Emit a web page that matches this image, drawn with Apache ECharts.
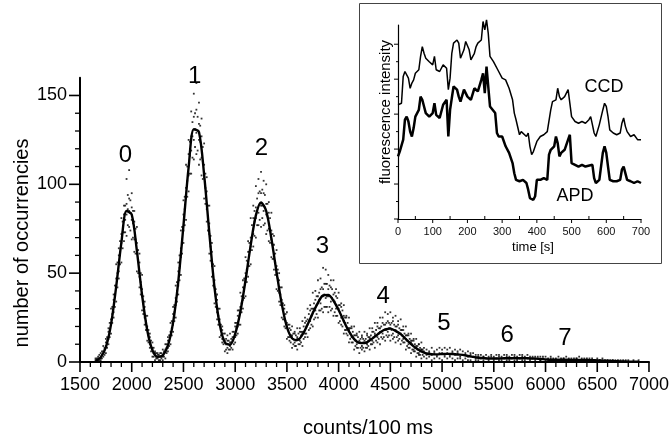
<!DOCTYPE html>
<html>
<head>
<meta charset="utf-8">
<script src="https://cdn.jsdelivr.net/npm/echarts@6/dist/echarts.min.js"></script>
<style>
  html, body { margin: 0; padding: 0; background: #fff; }
  #chart { width: 672px; height: 444px; }
</style>
</head>
<body>
<div id="chart"></div>
<script>
// ---- Photon-count histogram: fitted multi-peak curve ----
const fitX = [1650,1700,1750,1800,1850,1900,1950,2000,2050,2100,2150,2200,2250,2300,2350,2400,2450,2500,2550,2600,
  2650,2700,2750,2800,2850,2900,2950,3000,3050,3100,3150,3200,3250,3300,3350,3400,3450,3500,3550,3600,
  3650,3700,3750,3800,3850,3900,3950,4000,4050,4100,4150,4200,4250,4300,4350,4400,4450,4500,4550,4600,
  4650,4700,4750,4800,4850,4900,4950,5000,5050,5100,5150,5200,5250,5300,5350,5400,5450,5500,5550,5600,
  5650,5700,5750,5800,5850,5900,5950,6000,6050,6100,6150,6200,6250,6300,6350,6400,6450,6500,6550,6600,
  6650,6700,6750,6800,6850,6900];
const fitY = [0.6,2.6,8.3,21.2,42.6,67.2,85.0,83.0,62.5,37.7,17.9,6.7,2.9,3.7,9.3,22.3,45.3,76.8,109.5,131.0,
  129.5,105.3,72.7,42.0,21.3,11.0,9.7,15.8,28.3,46.0,65.8,82.5,89.8,85.0,69.5,50.5,32.7,19.7,13.3,12.3,
  15.4,21.1,27.5,33.3,37.5,37.8,34.5,29.3,23.0,17.2,12.9,10.8,10.6,12.1,14.3,16.6,18.3,18.8,17.5,15.7,
  12.9,10.1,7.7,5.9,4.8,4.4,4.3,4.5,4.6,4.5,4.2,4.0,3.4,2.9,2.4,2.2,2.0,2.0,2.0,2.1,
  2.1,2.2,2.1,2.2,2.0,1.9,1.7,1.5,1.3,1.3,1.3,1.3,1.2,1.2,1.2,1.1,1.0,0.9,0.8,0.6,
  0.5,0.4,0.3,0.2,0.2,0.1];

// ---- Measured occurrences: each row is [counts, occurrence, occurrence, ...] ----
const dotColumns = [
  [1650,0,1,0,2],[1675,1,0,2,3],[1700,1,3,2,5],[1725,3,6,5,9],[1750,5,9,11,13],[1775,10,13,17,19],
  [1800,16,22,24,30],[1825,25,28,35,38],[1850,34,43,47,55],[1875,47,51,60,64],[1900,56,67,72,81],
  [1925,68,73,83,88],[1950,71,83,89,103],[1975,76,85,92,108],[2000,69,80,87,95],[2025,62,69,79,85],
  [2050,51,61,67,76],[2075,42,48,56,61],[2100,29,37,41,49],[2125,21,25,31,34],[2150,12,18,20,26],
  [2175,8,10,14,16],[2200,3,7,8,11],[2225,1,4,5,6],[2250,0,2,4,5],[2275,0,1,3,5],[2300,1,3,4,7],
  [2325,2,6,7,10],[2350,6,8,12,14],[2375,10,15,17,22],[2400,17,21,27,31],[2425,25,32,36,43],
  [2450,38,43,51,56],[2475,49,59,64,74],[2500,67,74,83,91],[2525,80,92,98,111],[2550,96,105,117,125],
  [2575,106,119,127,141],[2600,114,125,138,151],[2625,117,129,142,157],[2650,111,125,134,146],
  [2675,105,115,127,137],[2700,92,104,111,123],[2725,79,86,96,104],[2750,61,72,78,88],[2775,48,54,62,67],
  [2800,33,42,46,54],[2825,24,28,35,38],[2850,14,21,24,30],[2875,11,13,18,20],[2900,6,11,12,16],
  [2925,5,8,12,15],[2950,7,9,11,16],[2975,7,12,14,17],[3000,11,14,20,22],[3025,16,20,26,29],
  [3050,21,28,31,39],[3075,30,35,42,46],[3100,37,46,50,59],[3125,48,54,62,68],[3150,55,65,70,81],
  [3175,65,72,81,88],[3200,70,81,87,99],[3225,77,84,95,103],[3250,76,88,95,107],[3275,77,85,95,102],
  [3300,72,83,89,100],[3325,68,75,84,90],[3350,59,69,74,84],[3375,52,58,66,71],[3400,41,50,54,63],
  [3425,34,39,46,50],[3450,25,33,35,42],[3475,20,24,30,32],[3500,13,20,22,28],[3525,12,14,19,21],
  [3550,8,14,15,20],[3575,9,11,16,17],[3600,7,13,14,19],[3625,10,12,17,19],[3650,9,16,17,23],
  [3675,14,16,22,25],[3700,14,21,24,30],[3725,19,23,29,32],[3750,20,28,30,39],[3775,25,29,35,40],
  [3800,25,33,37,46],[3825,29,33,41,47],[3850,28,37,41,53],[3875,31,36,44,52],[3900,28,37,41,49],
  [3925,29,34,42,46],[3950,26,35,38,46],[3975,26,30,37,41],[4000,22,30,32,39],[4025,21,25,31,33],
  [4050,16,23,26,32],[4075,16,18,25,26],[4100,11,18,19,25],[4125,11,14,19,20],[4150,7,13,15,20],
  [4175,8,10,15,16],[4200,5,11,12,17],[4225,7,9,14,15],[4250,6,11,12,17],[4275,8,10,15,16],
  [4300,7,13,14,19],[4325,10,12,17,19],[4350,8,15,16,22],[4375,11,14,20,22],[4400,10,17,19,25],
  [4425,13,16,22,25],[4450,12,18,21,28],[4475,14,17,23,27],[4500,12,19,21,28],[4525,13,16,23,25],
  [4550,11,18,20,26],[4575,12,15,21,23],[4600,10,16,18,24],[4625,11,13,18,20],[4650,7,13,15,20],
  [4675,8,10,15,16],[4700,5,11,12,16],[4725,6,7,12,13],[4750,3,8,9,13],[4775,4,5,10,10],[4800,2,7,7,11],
  [4825,3,6,8],[4850,2,4,7],[4875,3,5,6],[4900,1,4,8],[4925,2,5,6],[4950,3,4,7],[4975,2,5,8],
  [5000,1,5,7],[5025,3,4,8],[5050,2,5,7],[5075,3,4,8],[5100,2,5,6],[5125,1,4,7],[5150,2,5,6],
  [5175,2,3,7],[5200,1,4,6],[5225,2,4,5],[5250,1,3,6],[5275,1,4,5],[5300,0,3,5],[5325,1,2,4],
  [5350,1,3,4],[5375,0,2,4],[5400,1,3,3],[5425,0,2,4],[5450,1,2,3],[5475,0,3,4],[5500,1,2,3],
  [5525,0,2,4],[5550,1,3,4],[5575,1,2,3],[5600,0,2,4],[5625,1,3,4],[5650,1,2,3],[5675,0,2,4],
  [5700,1,3,4],[5725,1,2,3],[5750,0,2,4],[5775,1,3,4],[5800,1,2,3],[5825,0,2,4],[5850,1,2,3],
  [5875,0,2,3],[5900,1,2,3],[5925,0,2,3],[5950,1,1,3],[5975,0,2,3],[6000,0,1,3],[6025,0,1,2],
  [6050,0,2,3],[6075,0,1,2],[6100,1,1,2],[6125,0,1,3],[6150,0,1,2],[6175,0,2,2],[6200,0,1,3],
  [6225,0,1,2],[6250,1,1,2],[6275,0,1,2],[6300,0,2,2],[6325,0,1,3],[6350,0,1,2],[6375,0,1,2],
  [6400,0,1,2],[6425,0,1,2],[6450,0,1,2],[6475,0,1,1],[6500,0,1,2],[6525,0,1,1],[6550,0,1,2],
  [6575,0,0,1],[6600,0,1,1],[6625,0,0,1],[6650,0,1,1],[6675,0,0,1],[6700,0,0,1],[6725,0,0,1],
  [6750,0,1,0],[6775,0,0,1],[6800,0,0,1],[6825,0,0,0],[6850,0,0,1],[6875,0,0,0],[6900,0,0,1],
  // in-between bins
  [1662,0,1,2],[1687,1,2,4],[1712,2,4,6],[1737,4,7,8],[1762,8,12,14],[1787,14,18,22],[1812,22,27,31],
  [1837,31,38,43],[1862,42,50,56],[1887,55,60,68],[1912,64,73,79],[1937,73,80,88],[1962,77,86,94],
  [1987,74,84,91],[2012,70,78,85],[2037,61,69,75],[2062,50,57,63],[2087,38,45,50],[2112,27,33,37],
  [2137,18,23,26],[2162,11,15,18],[2187,6,9,12],[2212,3,5,8],[2237,2,3,5],[2262,1,3,4],[2287,2,3,5],
  [2312,3,5,6],[2337,5,8,10],[2362,9,12,15],[2387,15,19,23],[2412,23,28,32],[2437,34,40,45],
  [2462,46,53,60],[2487,61,69,76],[2512,77,86,93],[2537,93,102,110],[2562,106,116,124],[2587,115,127,135],
  [2612,121,131,140],[2637,119,130,138],[2662,114,124,133],[2687,103,113,121],[2712,89,98,106],
  [2737,74,82,88],[2762,57,65,71],[2787,43,50,55],[2812,31,37,41],[2837,21,26,30],[2862,15,19,21],
  [2887,10,13,16],[2912,7,10,13],[2937,7,10,12],[2962,8,11,13],[2987,10,14,17],[3012,15,19,22],
  [3037,21,25,29],[3062,28,33,37],[3087,36,42,47],[3112,45,52,57],[3137,54,62,67],[3162,63,71,77],
  [3187,71,79,85],[3212,77,85,92],[3237,80,89,96],[3262,81,88,97],[3287,78,87,94],[3312,74,82,89],
  [3337,67,74,81],[3362,58,66,72],[3387,49,56,61],[3412,40,47,52],[3437,32,38,42],[3462,24,30,33],
  [3487,19,23,27],[3512,14,18,21],[3537,11,15,18],[3562,10,13,16],[3587,9,12,15],[3612,10,13,16],
  [3637,11,15,17],[3662,13,17,20],[3687,16,20,23],[3712,18,23,27],[3737,21,26,30],[3762,24,30,33],
  [3787,27,32,37],[3812,29,35,39],[3837,30,37,42],[3862,31,38,44],[3887,31,37,44],[3912,31,37,43],
  [3937,30,36,41],[3962,28,34,39],[3987,26,31,36],[4012,23,28,32],[4037,20,25,29],[4062,18,22,25],
  [4087,15,19,22],[4112,13,16,19],[4137,11,14,17],[4162,9,12,15],[4187,8,11,14],[4212,8,11,13],
  [4237,8,11,13],[4262,8,11,13],[4287,9,12,14],[4312,10,13,15],[4337,11,14,17],[4362,12,15,18],
  [4387,13,16,19],[4412,14,17,20],[4437,14,18,21],[4462,15,18,22],[4487,15,19,22],[4512,15,18,22],
  [4537,14,18,21],[4562,14,17,20],[4587,13,16,19],[4612,12,15,18],[4637,11,14,16],[4662,9,12,15],
  [4687,8,11,13],[4712,7,10,12],[4737,6,8,10],[4762,5,7,9],[4787,4,6,8],[4812,4,6,7]
];

// ---- Peak numbering (number of emitting molecules) ----
const peakNames = ['0','1','2','3','4','5','6','7'];
const peakLabelX = [1940,2608,3253,3843,4430,5017,5629,6187];
const peakLabelY = [116.5,161,120.4,64.9,36.7,21.8,15.2,13.3];

// ---- Axis ticks ----
const countTicks = [1500,2000,2500,3000,3500,4000,4500,5000,5500,6000,6500,7000];
const occurrenceTicks = [0,50,100,150];
const timeTicks = [0,100,200,300,400,500,600,700];
const intensityTicks = [0,1,2,3,4,5];

// ---- Inset: fluorescence intensity traces (arbitrary units) ----
const timeCCD = [0,5,10,15,20,25,30,35,40,45,50,60,65,70,75,80,90,100,105,110,115,120,130,135,140,145,150,155,160,170,
  175,180,185,190,195,200,205,210,215,220,225,230,240,245,250,255,260,265,270,275,280,290,300,310,320,330,335,340,350,355,
  360,370,375,380,385,390,400,410,420,430,440,445,450,455,460,465,470,480,490,495,500,510,520,530,540,550,555,560,565,570,
  580,590,595,600,605,610,620,630,640,645,650,655,660,670,680,690,700];
const ccd = [3.27,3.27,3.31,4.08,4.22,4.17,4.03,3.74,3.89,3.98,4.17,4.27,4.65,4.93,4.74,4.60,4.50,4.41,4.65,4.27,4.31,4.22,4.41,4.46,4.31,3.70,4.03,4.74,5.03,5.12,
  5.03,4.60,4.55,4.84,5.08,5.03,4.84,4.55,4.55,4.74,4.93,5.03,5.12,5.65,5.41,5.70,5.31,4.65,4.60,4.50,4.55,4.22,4.03,3.98,3.74,3.41,3.03,2.84,2.41,2.50,
  2.46,2.36,2.46,2.08,1.84,1.93,2.22,2.36,2.41,2.50,3.12,3.36,3.31,3.41,3.74,3.50,3.41,3.50,3.70,3.70,2.93,2.79,2.74,2.79,2.74,2.84,2.93,2.70,2.46,2.36,
  2.70,3.12,3.31,3.22,2.93,2.55,2.46,2.41,2.46,2.74,2.89,2.65,2.50,2.36,2.41,2.27,2.27];
const timeAPD = [0,5,10,15,20,25,30,35,40,45,50,60,65,70,75,80,90,100,105,110,120,130,140,145,150,155,160,170,175,180,
  190,195,200,210,220,230,240,245,250,255,260,265,270,280,285,290,300,310,320,330,335,340,350,360,370,375,380,390,395,400,
  410,420,430,435,440,450,455,460,465,470,480,490,495,500,510,520,530,540,560,565,570,580,590,595,600,605,610,620,630,640,
  645,650,655,660,670,680,690,700];
const apd = [1.79,1.93,1.98,2.27,2.84,2.93,2.79,2.50,2.36,2.60,2.93,3.12,3.50,3.41,3.22,3.03,2.93,3.03,3.31,2.98,2.89,3.27,3.41,2.36,3.12,3.46,3.79,3.70,3.50,3.36,
  3.70,3.74,3.50,3.41,3.74,3.65,3.98,4.17,3.60,4.36,3.79,3.22,3.22,3.03,2.46,2.36,2.36,2.08,1.89,1.60,1.31,1.12,1.08,1.12,1.03,0.84,0.60,0.55,0.65,1.12,
  1.12,1.17,1.12,1.84,1.98,2.08,2.36,2.17,1.79,1.89,1.98,2.27,2.41,1.60,1.55,1.50,1.55,1.50,1.55,1.17,1.03,1.12,1.89,2.08,1.89,1.50,1.12,1.08,1.08,1.12,
  1.41,1.50,1.55,1.12,1.08,1.03,1.08,1.03];

const FONT = '"Liberation Sans", Arial, Helvetica, sans-serif';

const dotData = [];
dotColumns.forEach(col => {
  for (let i = 1; i < col.length; i++) dotData.push([col[0], col[i]]);
});
const fitData = fitX.map((x, i) => [x, fitY[i]]);
const ccdData = timeCCD.map((t, i) => [t, ccd[i]]);
const apdData = timeAPD.map((t, i) => [t, apd[i]]);

function minorBetween(ticks, parts) {
  const out = [];
  for (let i = 1; i < ticks.length; i++) {
    const step = (ticks[i] - ticks[i - 1]) / parts;
    for (let k = 1; k < parts; k++) out.push(ticks[i - 1] + k * step);
  }
  return out;
}

// Tick-mark records: [xValue, yValue, dxPixels, dyPixels, lineWidth]
function tickRecords(xTicks, xParts, yTicks, yParts, xOrigin, yOrigin, len) {
  const rec = [];
  xTicks.forEach(v => rec.push([v, yOrigin, 0, len.xMajor, len.wMajor]));
  minorBetween(xTicks, xParts).forEach(v => rec.push([v, yOrigin, 0, len.xMinor, len.wMinor]));
  yTicks.forEach(v => rec.push([xOrigin, v, -len.yMajor, 0, len.wMajor]));
  minorBetween(yTicks, yParts).forEach(v => rec.push([xOrigin, v, -len.yMinor, 0, len.wMinor]));
  return rec;
}
const mainTicks = tickRecords(countTicks, 5, occurrenceTicks, 5, 1500, 0,
  { xMajor: 10, xMinor: 5, yMajor: 11, yMinor: 5, wMajor: 1.6, wMinor: 1.3 });
const insetTicks = tickRecords(timeTicks, 2, intensityTicks, 2, 0, 0,
  { xMajor: 4, xMinor: -3, yMajor: 4, yMinor: 2, wMajor: 1, wMinor: 1 });

function renderTick(params, api) {
  const p = api.coord([api.value(0), api.value(1)]);
  return {
    type: 'line',
    shape: { x1: p[0], y1: p[1], x2: p[0] + api.value(2), y2: p[1] + api.value(3) },
    style: { stroke: '#000', lineWidth: api.value(4) },
    silent: true
  };
}

const chart = echarts.init(document.getElementById('chart'));
const plain = v => String(v);

chart.setOption({
  animation: false,
  textStyle: { fontFamily: FONT },
  grid: [
    { left: 80, right: 23, top: 77.7, bottom: 82 },
    { left: 398, right: 31, top: 25, bottom: 225 }
  ],
  xAxis: [
    {
      gridIndex: 0, type: 'value', min: 1500, max: 7000, interval: 500,
      axisLine: { show: true, onZero: false, lineStyle: { color: '#000', width: 2 } },
      axisTick: { show: false }, minorTick: { show: false },
      axisLabel: { show: true, fontSize: 18, color: '#000', margin: 14, fontFamily: FONT, formatter: plain },
      splitLine: { show: false }
    },
    {
      gridIndex: 1, type: 'value', min: 0, max: 700, interval: 100,
      axisLine: { show: true, onZero: false, lineStyle: { color: '#000', width: 1.2 } },
      axisTick: { show: false }, minorTick: { show: false },
      axisLabel: { show: true, fontSize: 11, color: '#111', margin: 7, fontFamily: FONT, formatter: plain },
      splitLine: { show: false }
    }
  ],
  yAxis: [
    {
      gridIndex: 0, type: 'value', min: 0, max: 160, interval: 50,
      axisLine: { show: true, onZero: false, lineStyle: { color: '#000', width: 2 } },
      axisTick: { show: false }, minorTick: { show: false },
      axisLabel: { show: true, fontSize: 18, color: '#000', margin: 13, fontFamily: FONT,
        formatter: v => (v % 50 === 0 ? String(v) : '') },
      splitLine: { show: false }
    },
    {
      gridIndex: 1, type: 'value', min: 0, max: 5.55, interval: 1,
      axisLine: { show: true, onZero: false, lineStyle: { color: '#000', width: 1.2 } },
      axisTick: { show: false }, minorTick: { show: false },
      axisLabel: { show: false },
      splitLine: { show: false }
    }
  ],
  series: [
    {
      type: 'scatter', xAxisIndex: 0, yAxisIndex: 0, data: dotData,
      symbol: 'rect', symbolSize: 1.8, silent: true,
      itemStyle: { color: '#000', opacity: 0.8 }, z: 2
    },
    {
      type: 'line', xAxisIndex: 0, yAxisIndex: 0, data: fitData,
      showSymbol: false, smooth: 0.3, silent: true,
      lineStyle: { color: '#000', width: 2.4 }, z: 3
    },
    {
      type: 'line', xAxisIndex: 1, yAxisIndex: 1, data: ccdData,
      showSymbol: false, clip: false, silent: true,
      lineStyle: { color: '#000', width: 1.5 }, z: 5
    },
    {
      type: 'line', xAxisIndex: 1, yAxisIndex: 1, data: apdData,
      showSymbol: false, clip: false, silent: true,
      lineStyle: { color: '#000', width: 2.5 }, z: 5
    },
    {
      type: 'custom', xAxisIndex: 0, yAxisIndex: 0, data: mainTicks,
      encode: { x: 0, y: 1 }, renderItem: renderTick, clip: false, silent: true, z: 20
    },
    {
      type: 'custom', xAxisIndex: 1, yAxisIndex: 1, data: insetTicks,
      encode: { x: 0, y: 1 }, renderItem: renderTick, clip: false, silent: true, z: 20
    }
  ]
});

// ---- Text annotations and inset frame ----
const graphics = [];
const centered = { align: 'center', verticalAlign: 'middle', textAlign: 'center', textVerticalAlign: 'middle' };
function label(text, x, y, size, rotate) {
  graphics.push({ type: 'text', x: x, y: y, rotation: rotate ? Math.PI / 2 : 0, z: 100,
    style: Object.assign({ text: text, font: size + 'px ' + FONT, fill: '#000' }, centered) });
}
graphics.push({
  type: 'rect', z: -1,
  shape: { x: 359.5, y: 3.5, width: 302, height: 260 },
  style: { fill: '#fff', stroke: '#444', lineWidth: 1 }
});
label('number of occurrencies', 22, 243, 20, true);
label('counts/100 ms', 368, 428, 20, false);
label('fluorescence intensity', 386, 112, 15, true);
label('time [s]', 533, 247, 13, false);
label('CCD', 604, 87, 18, false);
label('APD', 575, 196, 18, false);
peakNames.forEach((n, i) => {
  const p = chart.convertToPixel({ gridIndex: 0 }, [peakLabelX[i], peakLabelY[i]]);
  label(n, p[0], p[1], 24, false);
});
chart.setOption({ graphic: graphics });
</script>
</body>
</html>
